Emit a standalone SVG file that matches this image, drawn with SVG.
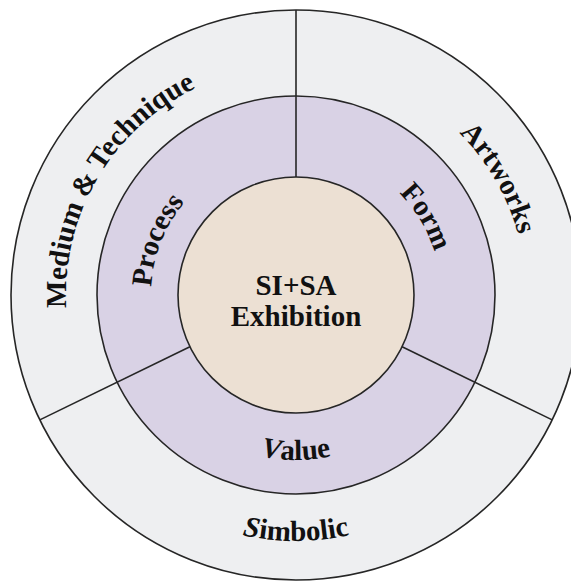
<svg xmlns="http://www.w3.org/2000/svg" width="571" height="585" viewBox="0 0 571 585">
  <style>
    .ring { stroke: #262626; stroke-width: 1.6; }
    .outer { fill: #eeeff1; }
    .middle { fill: #d9d2e5; }
    .inner { fill: #ece0d3; }
    .conn { stroke: #262626; stroke-width: 1.6; fill: none; }
    .lbl { font-family: "Liberation Serif", "Times New Roman", serif; font-weight: bold; font-size: 29px; fill: #111; }
    .it { font-style: italic; }
  </style>
  <defs>
    <path id="pMedium" d="M 119.8 442.8 A 230 230 0 0 1 339.9 69.2"/>
    <path id="pArtworks" d="M 296 65 A 230 230 0 0 1 495.2 410"/>
    <path id="pProcess" d="M 182.5 385.3 A 145 145 0 0 1 274.6 151.6"/>
    <path id="pForm" d="M 293.5 150 A 145 145 0 0 1 422.8 365.3"/>
    <path id="pValue" d="M 153.1 377.5 A 165 165 0 0 0 438.9 377.5"/>
    <path id="pSimbolic" d="M 83 418 A 246 246 0 0 0 509 418"/>
  </defs>
  <rect width="571" height="585" fill="#ffffff"/>
  <g id="outer-ring">
    <circle class="ring outer" cx="296" cy="295" r="285"/>
  </g>
  <g id="middle-ring">
    <circle class="ring middle" cx="296" cy="295" r="199"/>
  </g>
  <g id="connectors">
    <line class="conn" x1="296" y1="10" x2="296" y2="177"/>
    <line class="conn" x1="189.9" y1="346.7" x2="39.8" y2="419.9"/>
    <line class="conn" x1="402.1" y1="346.7" x2="552.2" y2="419.9"/>
  </g>
  <g id="center">
    <circle class="ring inner" cx="296" cy="295" r="118"/>
    <text class="lbl" x="296" y="295" text-anchor="middle">SI+SA</text>
    <text class="lbl" x="296" y="326" text-anchor="middle">Exhibition</text>
  </g>
  <g id="medium-technique">
    <text class="lbl"><textPath href="#pMedium" startOffset="50%" text-anchor="middle">Medium &amp; Technique</textPath></text>
  </g>
  <g id="artworks">
    <text class="lbl"><textPath href="#pArtworks" startOffset="50%" text-anchor="middle">Artworks</textPath></text>
  </g>
  <g id="process">
    <text class="lbl"><textPath href="#pProcess" startOffset="50%" text-anchor="middle">Process</textPath></text>
  </g>
  <g id="form">
    <text class="lbl"><textPath href="#pForm" startOffset="50%" text-anchor="middle">Form</textPath></text>
  </g>
  <g id="value">
    <text class="lbl"><textPath href="#pValue" startOffset="50%" text-anchor="middle"><tspan class="it">V</tspan>alue</textPath></text>
  </g>
  <g id="simbolic">
    <text class="lbl"><textPath href="#pSimbolic" startOffset="50%" text-anchor="middle"><tspan class="it">S</tspan>imbolic</textPath></text>
  </g>
</svg>
